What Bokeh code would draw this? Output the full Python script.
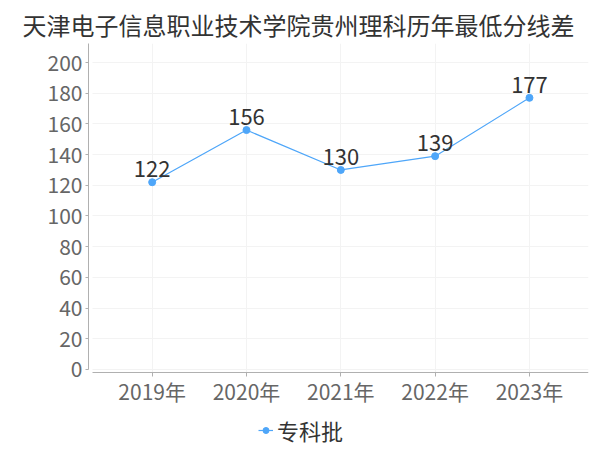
from bokeh.plotting import figure
from bokeh.models import ColumnDataSource, Range1d, FixedTicker, Legend, LegendItem
from bokeh.core.properties import value
from bokeh.embed import file_html
from bokeh.resources import INLINE

years = ["2019年", "2020年", "2021年", "2022年", "2023年"]
scores = [122, 156, 130, 139, 177]
series_name = "专科批"
y_ticks = [0, 20, 40, 60, 80, 100, 120, 140, 160, 180, 200]

FONT = "Noto Sans CJK SC"
BLUE = "#4ea6f9"
Y_TOP = 212.4
Y_AXIS_AT = -1.95
X_LEFT = -0.675
X_RIGHT = len(years) - 1 + 0.626

xs = list(range(len(years)))
src = ColumnDataSource(dict(x=xs, y=scores, label=[str(v) for v in scores]))

p = figure(width=600, height=450, output_backend="svg", toolbar_location=None,
           x_range=Range1d(X_LEFT, X_RIGHT), y_range=Range1d(-52.8, Y_TOP),
           min_border_left=88, min_border_right=12, min_border_top=43, min_border_bottom=0)

p.title.text = "天津电子信息职业技术学院贵州理科历年最低分线差"
p.title.text_font = FONT
p.title.text_font_size = "24px"
p.title.text_font_style = "normal"
p.title.text_color = "#333333"
p.title.align = "left"
p.title.offset = -66
p.title.standoff = 0
p.title.vertical_align = "top"

p.outline_line_color = None
p.background_fill_color = "white"

line = p.line("x", "y", source=src, line_color=BLUE, line_width=1.2)
pts = p.scatter("x", "y", source=src, size=7, fill_color=BLUE, line_color=BLUE)
p.text("x", "y", text="label", source=src, text_align="center", text_baseline="alphabetic",
       y_offset=-13, text_font=value(FONT), text_font_size="22px", text_color="#333333")

p.xaxis.ticker = FixedTicker(ticks=xs)
p.xaxis.major_label_overrides = {i: t for i, t in enumerate(years)}
p.xaxis.fixed_location = Y_AXIS_AT
p.xaxis.bounds = (-0.636, X_RIGHT)
p.yaxis.ticker = FixedTicker(ticks=y_ticks)
p.yaxis.bounds = (0, Y_TOP)

for ax in (p.xaxis, p.yaxis):
    ax.axis_line_color = "#b0b0b0"
    ax.major_tick_line_color = "#b0b0b0"
    ax.minor_tick_line_color = None
    ax.major_tick_in = 0
    ax.major_label_text_font = FONT
    ax.major_label_text_font_size = "21px"
    ax.major_label_text_color = "#666666"
p.xaxis.major_tick_out = 4
p.yaxis.major_tick_out = 3
p.xaxis.major_label_standoff = 0
p.yaxis.major_label_standoff = 3

p.xgrid.ticker = FixedTicker(ticks=xs)
p.ygrid.ticker = FixedTicker(ticks=y_ticks)
p.xgrid.cross_bounds = (Y_AXIS_AT, Y_TOP)
p.ygrid.cross_bounds = (-0.636, X_RIGHT)
p.xgrid.grid_line_color = "#f3f3f3"
p.ygrid.grid_line_color = "#f3f3f3"

legend = Legend(items=[LegendItem(label=series_name, renderers=[line, pts])],
                location=(170, 4), orientation="horizontal",
                label_text_font=FONT, label_text_font_size="22px", label_text_color="#333333",
                glyph_width=15, glyph_height=16, border_line_color=None,
                background_fill_alpha=0, padding=0, margin=0, label_standoff=4)
p.add_layout(legend, "center")

open("out.html", "w").write(file_html(p, INLINE))
